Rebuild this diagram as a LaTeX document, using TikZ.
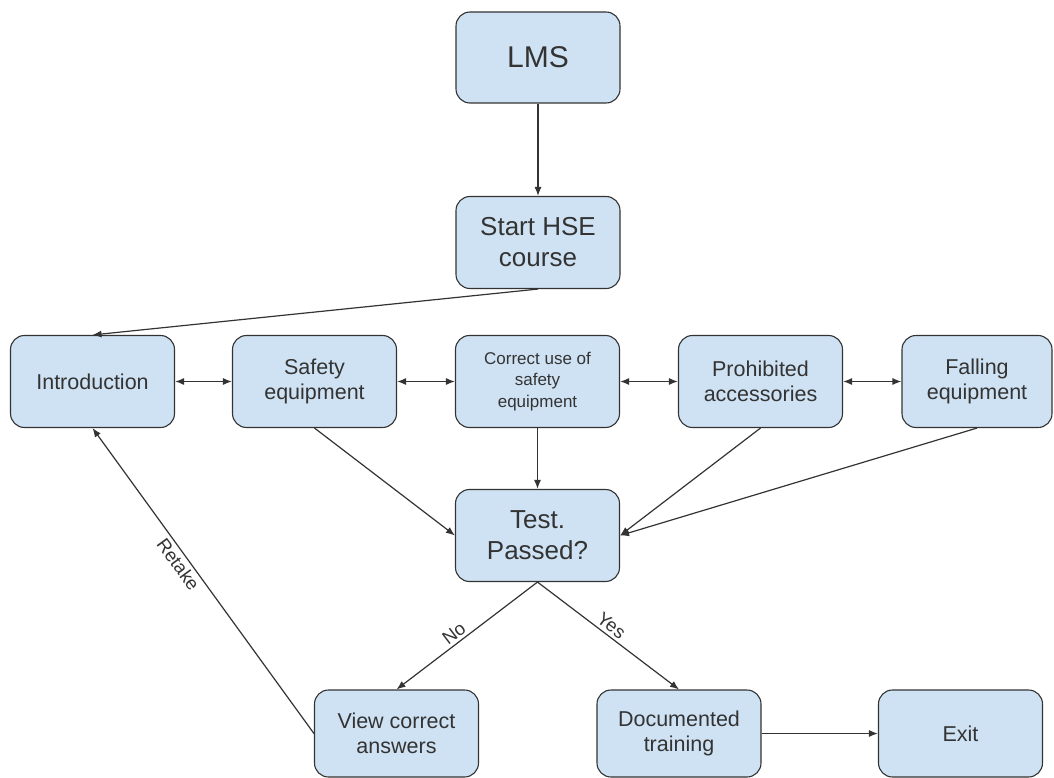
\documentclass[tikz,border=0pt]{standalone}
\usepackage{fontspec}
\setmainfont{Liberation Sans}
\usetikzlibrary{arrows.meta}
\definecolor{boxfill}{HTML}{CFE2F3}
\definecolor{ink}{HTML}{333333}
\begin{document}
\begin{tikzpicture}[x=1pt,y=-1pt,
 box/.style={draw=ink, fill=boxfill, rounded corners=14pt, line width=1.1pt,
   minimum width=164pt, minimum height=92pt, align=center, text=ink,
   font=\fontsize{21.5}{25}\selectfont, inner sep=0pt},
 conn/.style={draw=ink, line width=1.2pt, -{Latex[length=9pt,width=7pt]}},
 biconn/.style={draw=ink, line width=1.2pt, {Latex[length=9pt,width=7pt]}-{Latex[length=9pt,width=7pt]}},
 lbl/.style={font=\fontsize{18.5}{21}\selectfont, text=ink, inner sep=3pt}]
\useasboundingbox (0,0) rectangle (1054,778);

\node[box, font=\fontsize{30}{34}\selectfont, minimum height=91pt] (lms) at (538,57.5) {LMS};
\node[box, font=\fontsize{26}{31}\selectfont] (start) at (538,242.5) {Start HSE\\course};
\node[box] (intro) at (92.5,381.5) {Introduction};
\node[box] (safety) at (314.5,381.5) {Safety\\equipment};
\node[box, font=\fontsize{17}{21.5}\selectfont] (correct) at (537.5,381.5) {Correct use of\\safety\\equipment};
\node[box] (prohib) at (760.5,381.5) {Prohibited\\accessories};
\node[box, minimum width=150pt] (falling) at (977,381.5) {Falling\\equipment};
\node[box, font=\fontsize{26}{31}\selectfont] (test) at (537.5,535.5) {Test.\\Passed?};
\node[box, minimum height=87pt] (view) at (396.5,733.5) {View correct\\answers};
\node[box, minimum height=87pt] (doc) at (679,733.5) {Documented\\training};
\node[box, minimum height=87pt] (exit) at (960.5,733.5) {Exit};

\draw[conn] (lms) -- (start);
\draw[conn] (start.south) -- (intro.north);
\draw[biconn] (intro) -- (safety);
\draw[biconn] (safety) -- (correct);
\draw[biconn] (correct) -- (prohib);
\draw[biconn] (prohib) -- (falling);
\draw[conn] (safety.south) -- (test.west);
\draw[conn] (correct) -- (test);
\draw[conn] (prohib.south) -- (test.east);
\draw[conn] (falling.south) -- (test.east);
\draw[conn] (test.south) -- node[lbl, pos=0.55, sloped, above] {No} (view.north);
\draw[conn] (test.south) -- node[lbl, pos=0.48, sloped, above] {Yes} (doc.north);
\draw[conn] (view.west) -- node[lbl, pos=0.574, sloped, below] {Retake} (intro.south);
\draw[conn] (doc) -- (exit);
\end{tikzpicture}
\end{document}
